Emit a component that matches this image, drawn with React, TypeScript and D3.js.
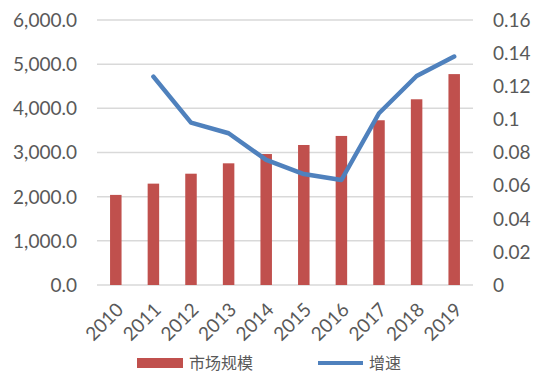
import React from "react";
import * as d3 from "d3";

const years = ["2010","2011","2012","2013","2014","2015","2016","2017","2018","2019"];
const marketSize = [2040, 2295, 2520, 2755, 2965, 3170, 3375, 3730, 4205, 4775];
const growth: (number | null)[] = [null, 0.1258, 0.098, 0.0916, 0.0755, 0.067, 0.0634, 0.1037, 0.1262, 0.1379];
const leftTicks = [0, 1000, 2000, 3000, 4000, 5000, 6000];
const rightTicks = [0, 0.02, 0.04, 0.06, 0.08, 0.1, 0.12, 0.14, 0.16];
const seriesNames = ["市场规模", "增速"];

const W = 557, H = 376;
const M = { left: 97, right: 473, top: 20, bottom: 285 };
const BAR = "#C0504D";
const LINE = "#4F81BD";
const TEXT = "#595959";
const FONT = "Lato, 'Liberation Sans', Arial, sans-serif";

export default function App() {
  const x = d3.scaleBand<string>().domain(years).range([M.left, M.right]);
  const yL = d3.scaleLinear().domain([0, 6000]).range([M.bottom, M.top]);
  const yR = d3.scaleLinear().domain([0, 0.16]).range([M.bottom, M.top]);
  const bw = 11.5;
  const cx = (d: string) => (x(d) as number) + x.bandwidth() / 2;
  const linePts = years.map((y, i) => ({ y, v: growth[i] })).filter(p => p.v != null) as { y: string; v: number }[];
  const line = d3.line<{ y: string; v: number }>().x(p => cx(p.y)).y(p => yR(p.v));
  const fmtL = d3.format(",.1f");
  const fmtR = (v: number) => (v === 0 ? "0" : String(+v.toFixed(2)));
  return (
    <svg width={W} height={H} style={{ position: "absolute", left: 0, top: 0, background: "#fff" }}>
      {leftTicks.map(t => (
        <line key={"g" + t} x1={M.left} x2={M.right} y1={yL(t)} y2={yL(t)} stroke="#D9D9D9" strokeWidth={1.5} />
      ))}
      {leftTicks.map(t => (
        <text key={"l" + t} x={77} y={yL(t)} dy="0.36em" textAnchor="end" fontFamily={FONT} fontSize={19} fill={TEXT}>
          {fmtL(t)}
        </text>
      ))}
      {rightTicks.map(t => (
        <text key={"r" + t} x={493} y={yR(t)} dy="0.36em" textAnchor="start" fontFamily={FONT} fontSize={19} fill={TEXT}>
          {fmtR(t)}
        </text>
      ))}
      {years.map((yr, i) => (
        <rect key={yr} x={cx(yr) - bw / 2} y={yL(marketSize[i])} width={bw} height={yL(0) - yL(marketSize[i])} fill={BAR} />
      ))}
      <path d={line(linePts) || ""} fill="none" stroke={LINE} strokeWidth={4.5} strokeLinejoin="round" strokeLinecap="round" />
      {years.map(yr => (
        <text key={"x" + yr} transform={`translate(${cx(yr) + 4},${M.bottom + 21}) rotate(-45)`} textAnchor="end" dy="0.36em"
          fontFamily={FONT} fontSize={19} fill={TEXT}>
          {yr}
        </text>
      ))}
      <rect x={137} y={358} width={46} height={10} fill={BAR} />
      <text x={189} y={363} dy="0.35em" fontFamily="'Noto Sans CJK SC', sans-serif" fontSize={16} fill={TEXT}>{seriesNames[0]}</text>
      <line x1={318} x2={363} y1={363} y2={363} stroke={LINE} strokeWidth={4} />
      <text x={369} y={363} dy="0.35em" fontFamily="'Noto Sans CJK SC', sans-serif" fontSize={16} fill={TEXT}>{seriesNames[1]}</text>
    </svg>
  );
}
